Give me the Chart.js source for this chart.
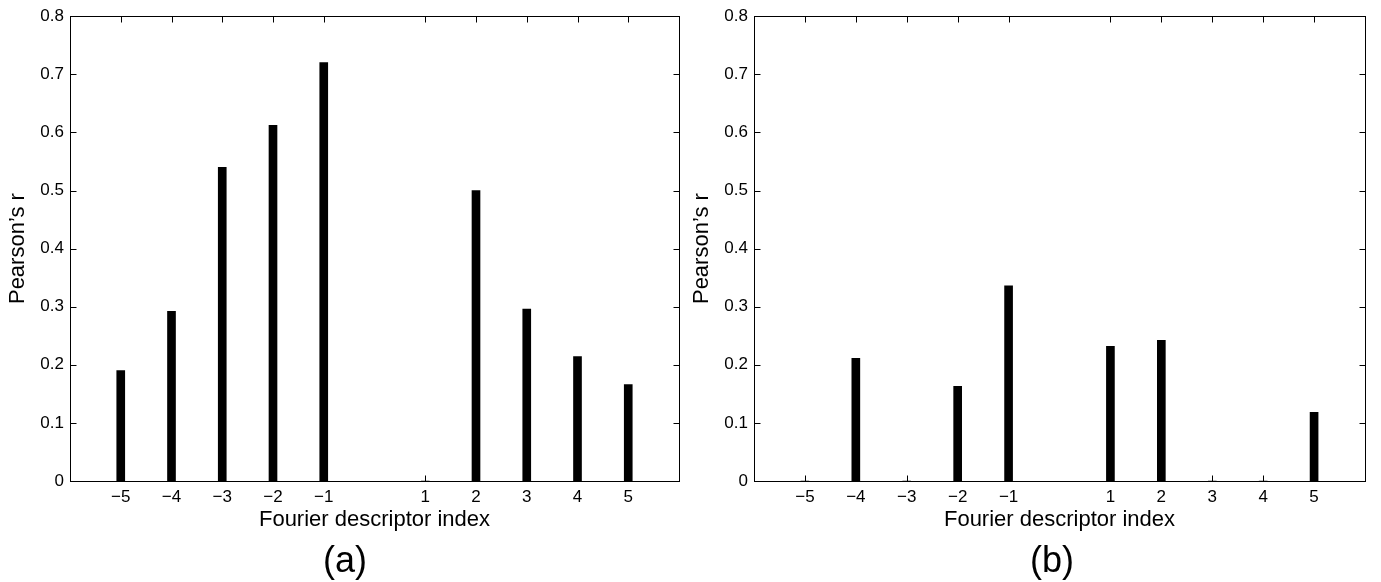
<!DOCTYPE html>
<html>
<head>
<meta charset="utf-8">
<script src="https://cdn.jsdelivr.net/npm/chart.js@4"></script>
<style>
  html, body { margin: 0; padding: 0; background: #fff; }
  body { width: 1381px; height: 582px; position: relative; overflow: hidden; font-family: "Liberation Sans", Arial, sans-serif; }
  canvas { position: absolute; top: 0; }
  #chartA { left: 0; }
  #chartB { left: 684px; }
  .panel-label { position: absolute; top: 538px; font-size: 36px; line-height: 44px; color: #000; transform: translateX(-50%); }
</style>
</head>
<body>
<canvas id="chartA" width="690" height="582"></canvas>
<canvas id="chartB" width="697" height="582"></canvas>
<div class="panel-label" style="left:345px">(a)</div>
<div class="panel-label" style="left:1052px">(b)</div>
<script>
// indices of the Fourier descriptors (0 is left out)
const indices = [-5, -4, -3, -2, -1, 1, 2, 3, 4, 5];
// Pearson's r for each descriptor
const corrA = [0.190, 0.292, 0.540, 0.612, 0.720, 0, 0.500, 0.296, 0.214, 0.166];
const corrB = [0, 0.211, 0, 0.163, 0.336, 0.232, 0.242, 0, 0, 0.118];
const yTicks = [0, 0.1, 0.2, 0.3, 0.4, 0.5, 0.6, 0.7, 0.8];

const FONT = '"Liberation Sans", Arial, sans-serif';

// box around the plot area and inward-pointing ticks on all four sides
const boxTicks = {
  id: 'boxTicks',
  afterDatasetsDraw(chart) {
    const { ctx, chartArea: a, scales: { x, y } } = chart;
    const L = Math.round(a.left) + 0.5, R = Math.round(a.right) + 0.5;
    const T = Math.round(a.top) + 0.5, B = Math.round(a.bottom) + 0.5;
    ctx.save();
    ctx.strokeStyle = '#000';
    ctx.lineWidth = 1;
    ctx.beginPath();
    x.ticks.forEach(t => {
      const px = Math.round(x.getPixelForValue(t.value)) + 0.5;
      ctx.moveTo(px, B); ctx.lineTo(px, B - 6);
      ctx.moveTo(px, T); ctx.lineTo(px, T + 6);
    });
    y.ticks.forEach(t => {
      const py = Math.round(y.getPixelForValue(t.value)) + 0.5;
      ctx.moveTo(L, py); ctx.lineTo(L + 6, py);
      ctx.moveTo(R, py); ctx.lineTo(R - 6, py);
    });
    ctx.stroke();
    ctx.strokeRect(L, T, R - L, B - T);
    ctx.restore();
  }
};

function makeChart(id, values, padRight) {
  return new Chart(document.getElementById(id), {
    type: 'bar',
    data: {
      datasets: [{
        data: indices.map((v, i) => ({ x: v, y: values[i] })),
        backgroundColor: '#000',
        borderWidth: 0,
        barThickness: 8
      }]
    },
    options: {
      responsive: false,
      animation: false,
      layout: { padding: { top: 14, right: padRight, bottom: 39, left: 0 } },
      plugins: { legend: { display: false }, tooltip: { enabled: false } },
      scales: {
        x: {
          type: 'linear',
          min: -6,
          max: 6,
          offset: false,
          grid: { display: false, drawTicks: false },
          border: { display: false },
          afterBuildTicks: s => { s.ticks = indices.map(v => ({ value: v })); },
          afterFit: s => { s.height = 62; },
          ticks: {
            padding: 6,
            color: '#000',
            font: { family: FONT, size: 17 },
            maxRotation: 0,
            autoSkip: false,
            callback: v => v < 0 ? '\u2212' + Math.abs(v) : String(v)
          },
          title: {
            display: true,
            text: 'Fourier descriptor index',
            color: '#000',
            font: { family: FONT, size: 22 },
            padding: { top: 0, bottom: 10 }
          }
        },
        y: {
          min: 0,
          max: 0.8,
          grid: { display: false, drawTicks: false },
          border: { display: false },
          afterBuildTicks: s => { s.ticks = yTicks.map(v => ({ value: v })); },
          afterFit: s => { s.width = 70; },
          ticks: {
            padding: 6,
            color: '#000',
            font: { family: FONT, size: 17 },
            callback: v => v === 0 ? '0' : v.toFixed(1)
          },
          title: {
            display: true,
            text: 'Pearson\u2019s r',
            color: '#000',
            font: { family: FONT, size: 22 },
            padding: { top: 5, bottom: 0 }
          }
        }
      }
    },
    plugins: [boxTicks]
  });
}

makeChart('chartA', corrA, 11);
makeChart('chartB', corrB, 16);
</script>
</body>
</html>
